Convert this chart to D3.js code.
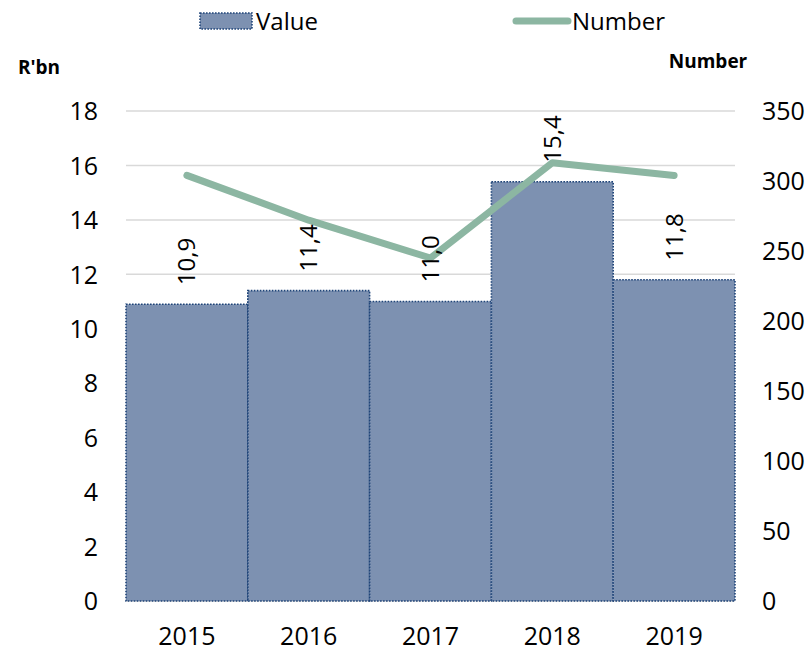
<!DOCTYPE html>
<html lang="en">
<head>
<meta charset="UTF-8">
<title>Value and Number</title>
<script src="https://d3js.org/d3.v7.min.js"></script>
<style>
  body { margin: 0; background: #fff; }
  svg text { font-family: "Open Sans", "Liberation Sans", sans-serif; fill: #000; }
</style>
</head>
<body>
<div id="chart"></div>
<script>
// data
var years = ["2015", "2016", "2017", "2018", "2019"];
var values = [10.9, 11.4, 11.0, 15.4, 11.8];     // R'bn, bars
var numbers = [304, 272, 245, 313, 304];          // line, right axis
var leftTicks = [0, 2, 4, 6, 8, 10, 12, 14, 16, 18];
var rightTicks = [0, 50, 100, 150, 200, 250, 300, 350];

var W = 808, H = 654;
var plot = {left: 126, right: 735, top: 111, bottom: 601};

var svg = d3.select("#chart").append("svg")
    .attr("width", W).attr("height", H);

var x = d3.scaleBand().domain(years).range([plot.left, plot.right]).padding(0);
var y = d3.scaleLinear().domain([0, 18]).range([plot.bottom, plot.top]);
var y2 = d3.scaleLinear().domain([0, 350]).range([plot.bottom, plot.top]);

// gridlines
svg.append("g")
    .selectAll("line").data(leftTicks).enter().append("line")
    .attr("x1", plot.left).attr("x2", plot.right)
    .attr("y1", function(d) { return y(d); })
    .attr("y2", function(d) { return y(d); })
    .attr("stroke", "#d9d9d9").attr("stroke-width", 1.5);

// left axis
var yAxis = svg.append("g")
    .attr("transform", "translate(" + plot.left + ",0)")
    .call(d3.axisLeft(y).tickValues(leftTicks).tickSize(0).tickPadding(28));
yAxis.select(".domain").remove();
yAxis.selectAll("text").style("font-size", "25px").attr("dy", "0.35em");

// right axis
var y2Axis = svg.append("g")
    .attr("transform", "translate(" + plot.right + ",0)")
    .call(d3.axisRight(y2).tickValues(rightTicks).tickSize(0).tickPadding(27));
y2Axis.select(".domain").remove();
y2Axis.selectAll("text").style("font-size", "25px").attr("dy", "0.35em");

// x axis
var xAxis = svg.append("g")
    .attr("transform", "translate(0," + plot.bottom + ")")
    .call(d3.axisBottom(x).tickSize(0).tickPadding(26));
xAxis.select(".domain").remove();
xAxis.selectAll("text").style("font-size", "25px");

// bars
svg.append("g")
    .selectAll("rect").data(values).enter().append("rect")
    .attr("x", function(d, i) { return x(years[i]); })
    .attr("y", function(d) { return y(d); })
    .attr("width", x.bandwidth())
    .attr("height", function(d) { return y(0) - y(d); })
    .attr("fill", "#7d91b1")
    .attr("stroke", "#1f4478")
    .attr("stroke-width", 1.6)
    .attr("stroke-dasharray", "1.6,1.4");

// line
var line = d3.line()
    .x(function(d, i) { return x(years[i]) + x.bandwidth() / 2; })
    .y(function(d) { return y2(d); });
svg.append("path")
    .datum(numbers)
    .attr("d", line)
    .attr("fill", "none")
    .attr("stroke", "#8cb6a2")
    .attr("stroke-width", 7)
    .attr("stroke-linecap", "round")
    .attr("stroke-linejoin", "round");

// data labels, rotated
svg.append("g")
    .selectAll("text").data(values).enter().append("text")
    .attr("transform", function(d, i) {
        return "translate(" + (x(years[i]) + x.bandwidth() / 2) + "," + (y(d) - 19) + ") rotate(-90)";
    })
    .attr("dy", "0.35em")
    .style("font-size", "24px")
    .text(function(d) { return d.toFixed(1).replace(".", ","); });

// axis titles
svg.append("text").attr("x", 18).attr("y", 74)
    .style("font-size", "19px").style("font-weight", "bold").text("R'bn");
svg.append("text").attr("x", 708).attr("y", 68).attr("text-anchor", "middle")
    .style("font-size", "19px").style("font-weight", "bold").text("Number");

// legend
var lg = svg.append("g");
lg.append("rect").attr("x", 200).attr("y", 13).attr("width", 52).attr("height", 16)
    .attr("fill", "#7d91b1").attr("stroke", "#1f4478")
    .attr("stroke-width", 1.6).attr("stroke-dasharray", "1.6,1.4");
lg.append("text").attr("x", 256).attr("y", 30).style("font-size", "24px").text("Value");
lg.append("line").attr("x1", 516).attr("x2", 568).attr("y1", 21).attr("y2", 21)
    .attr("stroke", "#8cb6a2").attr("stroke-width", 7).attr("stroke-linecap", "round");
lg.append("text").attr("x", 572).attr("y", 30).style("font-size", "24px").text("Number");
</script>
</body>
</html>
